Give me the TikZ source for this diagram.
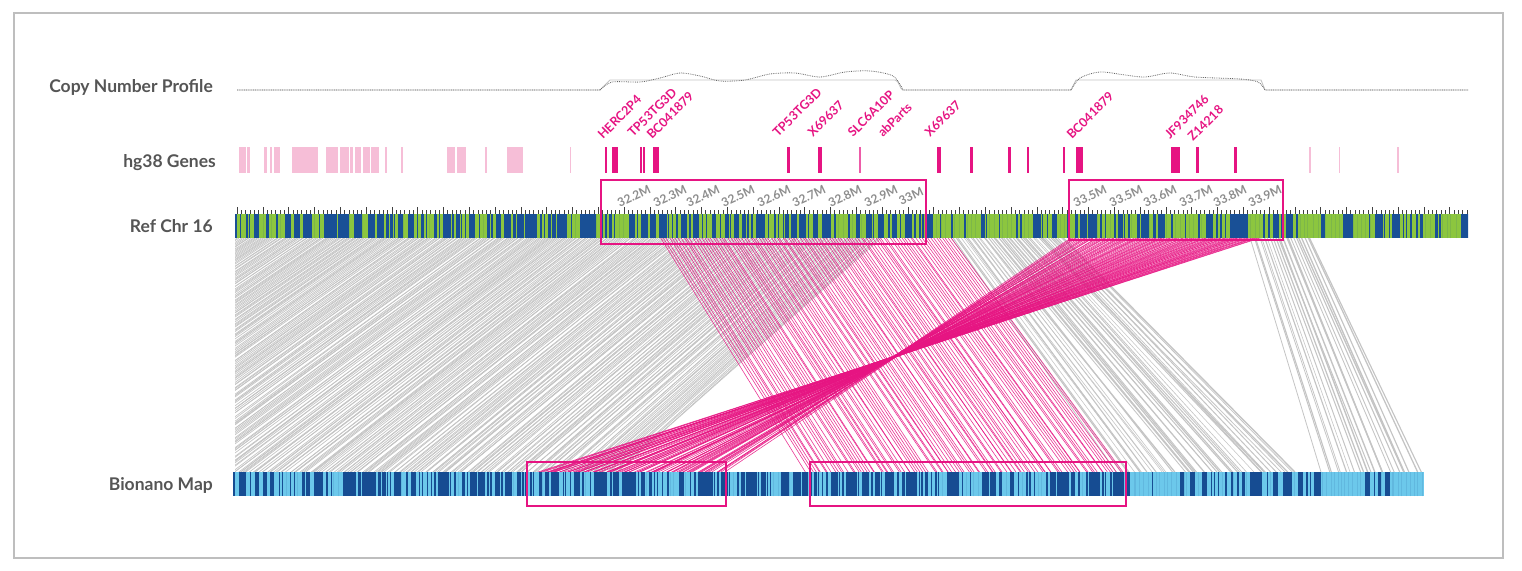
\documentclass[tikz,border=0pt]{standalone}
\usepackage{fontspec}
\setmainfont{Lato}
\usetikzlibrary{positioning}
\definecolor{refgreen}{RGB}{140,198,63}
\definecolor{refblue}{RGB}{25,80,150}
\definecolor{bnlight}{RGB}{108,200,235}
\definecolor{bndark}{RGB}{22,76,146}
\definecolor{hotpink}{RGB}{230,20,130}
\definecolor{palepink}{RGB}{246,190,215}
\definecolor{linkgray}{RGB}{196,196,196}
\definecolor{txtgray}{RGB}{85,85,85}
\definecolor{scalegray}{RGB}{140,140,140}
\definecolor{framegray}{RGB}{190,190,190}

\begin{document}
\begin{tikzpicture}[x=1pt,y=-1pt,
  rowlbl/.style={anchor=east,inner sep=0pt,text=txtgray,font=\bfseries\fontsize{17.5}{17.5}\selectfont},
  genelbl/.style={anchor=base west,rotate=45,inner sep=0pt,text=hotpink,font=\bfseries\fontsize{12.5}{12.5}\selectfont},
  mblbl/.style={rotate=25,inner sep=0pt,text=scalegray,font=\bfseries\fontsize{12}{12}\selectfont},
  hlbox/.style={draw=hotpink,line width=1.6pt},
  glink/.style={draw=linkgray,line width=0.7pt},
  plink/.style={draw=hotpink,line width=0.6pt,opacity=0.85}]
  \useasboundingbox (0,0) rectangle (1522,570);
  \draw[framegray,line width=1.2pt] (14,13) rectangle (1503,558);

  % row labels
  \node[rowlbl] (cnp) at (213,87) {Copy Number Profile};
  \node[rowlbl] (genes) at (216,163) {hg38 Genes};
  \node[rowlbl] (refchr) at (213,226) {Ref Chr 16};
  \node[rowlbl] (bionano) at (213,485) {Bionano Map};

  % copy number profile
  \draw[linkgray,line width=0.9pt] (237,90) -- (600,90) -- (610,80) -- (895,80)
    .. controls (899,80) and (900,90) .. (903,90) -- (1071,90) -- (1076,80) -- (1261,80) -- (1265,90) -- (1468,90);
  \draw[black!60,densely dotted,line width=0.8pt] (237,90) -- (600,90)
    plot[smooth] coordinates {(600,90) (612,82) (640,82) (660,78) (680,73) (700,76) (720,81) (745,80) (770,74) (795,73) (820,77) (845,72) (870,71) (893,76) (903,90)}
    -- (1071,90)
    plot[smooth] coordinates {(1071,90) (1080,78) (1100,72) (1125,75) (1145,77) (1170,73) (1195,77) (1240,79) (1258,82) (1265,90)}
    -- (1468,90);

  % genes
  \foreach \x/\w in {239/7,247/3,264/3,270/2,274/6,292/26,326/12,340/9,350/3,355/6,363/7,371/8,385/1.5,401/1.5,447/8,457/9,485/1.5,507/16,570/1,1309/1.5,1339/1,1397/1.5}
    \fill[palepink] (\x,147) rectangle ++(\w,26);
  \foreach \x/\w in {605/2,612/6,640/2,643/2,653/6,787/3,818/4,937/4,970/2.5,1008/2.5,1027/1.5,1063/2,1076/7,1171/9,1196/2.5,1234/2.5}
    \fill[hotpink] (\x,147) rectangle ++(\w,26);
  \fill[hotpink!70] (859,147) rectangle ++(1.5,26);

  \node[genelbl] (g1) at (603,140) {HERC2P4};
  \node[genelbl] (g2) at (633,138) {TP53TG3D};
  \node[genelbl] (g3) at (652,140) {BC041879};
  \node[genelbl] (g4) at (778,138) {TP53TG3D};
  \node[genelbl] (g5) at (813,138) {X69637};
  \node[genelbl] (g6) at (853,138) {SLC6A10P};
  \node[genelbl] (g7) at (883,138) {abParts};
  \node[genelbl] (g8) at (930,138) {X69637};
  \node[genelbl] (g9) at (1072,140) {BC041879};
  \node[genelbl] (g10) at (1170,140) {JF934746};
  \node[genelbl] (g11) at (1193,142) {Z14218};

  \pgfmathsetseed{42}
  % alignment links
  \begin{scope}
    \clip (235,238) rectangle (1470,472);
    \foreach \i in {0,...,330} {
      \pgfmathsetmacro\t{237+\i*1.95+rnd*1.5}
      \pgfmathsetmacro\b{\t-360+(\t-237)*0.149+rnd*6}
      \draw[glink] (\t,238) -- (\b,472);
    }
    \foreach \i in {0,...,45} {
      \pgfmathsetmacro\t{950+\i*2.5+rnd*2}
      \pgfmathsetmacro\b{1110+(\t-950)*1.6+rnd*10}
      \draw[glink,line width=0.5pt+rnd*0.9pt] (\t,238) -- (\b,472);
    }
    \foreach \i in {0,...,22} {
      \pgfmathsetmacro\t{1250+\i*2.7+rnd*2}
      \pgfmathsetmacro\b{1320+(\t-1250)*1.6+rnd*6}
      \draw[glink,line width=0.5pt+rnd*0.9pt] (\t,238) -- (\b,472);
    }
    \foreach \i in {0,...,100} {
      \pgfmathsetmacro\t{660+\i*2.9+rnd*1.5}
      \pgfmathsetmacro\b{804+(\t-660)*1.09+rnd*4}
      \draw[plink] (\t,238) -- (\b,472);
    }
    \foreach \i in {0,...,90} {
      \pgfmathsetmacro\t{1070+\i*2.1+rnd*1.5}
      \pgfmathsetmacro\b{724-(\t-1070)*0.973+rnd*8-4}
      \draw[plink] (\t,238) -- (\b,472);
    }
  \end{scope}

  % reference chromosome
  \foreach \i in {0,...,286} {
    \pgfmathsetmacro\h{ifthenelse(mod(\i,6)==0,7,4.5)}
    \draw[black!75,line width=0.5pt] (237+\i*4.3,214) -- ++(0,-\h);
  }
  \fill[refgreen] (235,214) rectangle (1468,238);
  \begin{scope}
    \clip (235,214) rectangle (1468,238);
    \foreach \a/\b/\p in {235/940/0.85,940/1065/0.3,1065/1290/0.85,1290/1370/0.25,1370/1420/0.85,1420/1468/0.15} {
      \pgfmathtruncatemacro\n{(\b-\a)/4.4}
      \foreach \i in {0,...,\n} {
        \pgfmathsetmacro\x{\a+\i*4.4+rnd*2}
        \pgfmathsetmacro\w{(rnd<\p)*(1+7*rnd^2.5)}
        \fill[refblue] (\x,214) rectangle ++(\w,24);
      }
    }
  \end{scope}

  % bionano map
  \fill[bnlight] (233,472) rectangle (1424,496);
  \begin{scope}
    \clip (233,472) rectangle (1424,496);
    \foreach \a/\b/\p in {233/1135/0.8,1135/1185/0.2,1185/1310/0.75,1310/1340/0.15,1340/1393/0.6,1393/1424/0.1} {
      \pgfmathtruncatemacro\n{(\b-\a)/4}
      \foreach \i in {0,...,\n} {
        \pgfmathsetmacro\x{\a+\i*4+rnd*2}
        \pgfmathsetmacro\w{(rnd<\p)*(1+7*rnd^2.5)}
        \fill[bndark] (\x,472) rectangle ++(\w,24);
      }
    }
  \end{scope}

  % position labels
  \foreach \x/\lb [count=\k] in {634/32.2M,670/32.3M,703/32.4M,738/32.5M,774/32.6M,809/32.7M,845/32.8M,881/32.9M,911/33M,1090/33.5M,1126/33.5M,1160/33.6M,1196/33.7M,1230/33.8M,1265/33.9M}
    \node[mblbl] (mb\k) at (\x,196) {\lb};

  % highlighted regions
  \draw[hlbox] (601,180) rectangle (926,244);
  \draw[hlbox] (1069,180) rectangle (1283,240);
  \draw[hlbox] (527,462) rectangle (726,506);
  \draw[hlbox] (810,462) rectangle (1126,506);
\end{tikzpicture}
\end{document}
